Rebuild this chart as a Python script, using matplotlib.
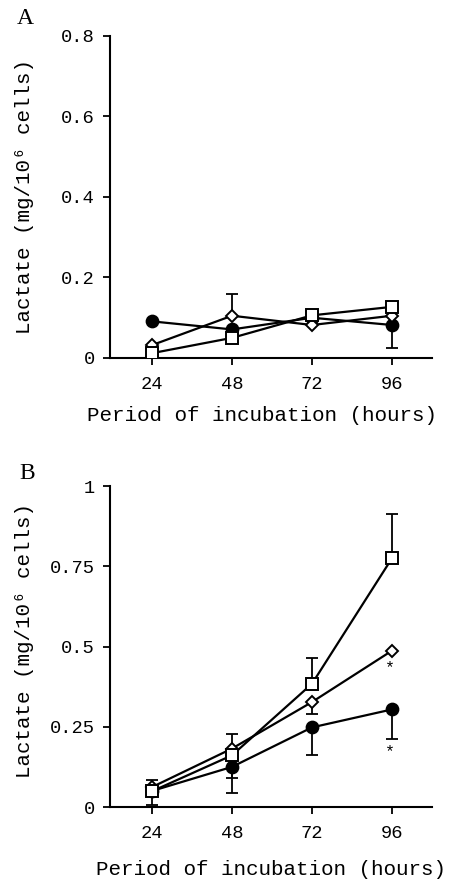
import matplotlib
matplotlib.use("Agg")
import matplotlib.pyplot as plt
import numpy as np

hours = [24, 48, 72, 96]

# Panel A
a_circle = [0.091, 0.071, 0.100, 0.082]
a_circle_err_lo = [0, 0, 0, 0.056]
a_circle_err_hi = [0, 0, 0, 0]
a_diamond = [0.032, 0.105, 0.082, 0.105]
a_diamond_err_lo = [0, 0, 0, 0]
a_diamond_err_hi = [0, 0.054, 0, 0]
a_square = [0.012, 0.050, 0.106, 0.127]

# Panel B
b_circle = [0.050, 0.125, 0.248, 0.304]
b_circle_err_lo = [0.043, 0.080, 0.087, 0.091]
b_circle_err_hi = [0, 0, 0, 0]
b_diamond = [0.062, 0.182, 0.327, 0.487]
b_diamond_err_lo = [0, 0, 0.036, 0]
b_diamond_err_hi = [0.021, 0.044, 0, 0]
b_square = [0.049, 0.161, 0.384, 0.775]
b_square_err_lo = [0, 0.071, 0, 0]
b_square_err_hi = [0, 0, 0.079, 0.138]

a_yticks = [0, 0.2, 0.4, 0.6, 0.8]
a_yticklabels = ["0", "0.2", "0.4", "0.6", "0.8"]
b_yticks = [0, 0.25, 0.5, 0.75, 1]
b_yticklabels = ["0", "0.25", "0.5", "0.75", "1"]

ylabel = "Lactate (mg/10⁶ cells)"
xlabel = "Period of incubation (hours)"

mono = ["Liberation Mono", "DejaVu Sans Mono"]
serif = ["Liberation Serif", "DejaVu Serif"]

fig = plt.figure(figsize=(4.54, 8.8), dpi=100)
W, H = 454, 880
def axrect(l, t, r, b):
    return [l / W, 1 - b / H, (r - l) / W, (b - t) / H]

axA = fig.add_axes(axrect(110, 36, 432, 358))
axB = fig.add_axes(axrect(110, 486, 432, 807))

lw = 1.6
def series(ax, y, lo, hi, marker, fc, ms):
    if lo is not None:
        ax.errorbar(hours, y, yerr=[lo, hi], fmt='none', ecolor='black',
                    elinewidth=1.3, capsize=4, capthick=1.3, zorder=2)
    ax.plot(hours, y, color='black', lw=lw, marker=marker, markersize=ms,
            markerfacecolor=fc, markeredgecolor='black', markeredgewidth=1.4, zorder=3)

# Panel A
series(axA, a_circle, a_circle_err_lo, a_circle_err_hi, 'o', 'black', 8.5)
series(axA, a_diamond, a_diamond_err_lo, a_diamond_err_hi, 'D', 'white', 6)
series(axA, a_square, None, None, 's', 'white', 8)

# Panel B
series(axB, b_circle, b_circle_err_lo, b_circle_err_hi, 'o', 'black', 8.5)
series(axB, b_diamond, b_diamond_err_lo, b_diamond_err_hi, 'D', 'white', 6)
series(axB, b_square, b_square_err_lo, b_square_err_hi, 's', 'white', 8)

xlim = (11.4, 108)
for ax, yt, ytl, ymax in [(axA, a_yticks, a_yticklabels, 0.8),
                          (axB, b_yticks, b_yticklabels, 1.0)]:
    ax.set_xlim(*xlim)
    ax.set_ylim(0, ymax)
    ax.set_xticks(hours)
    ax.set_xticklabels([str(h) for h in hours], family=mono, fontsize=13.5)
    ax.set_yticks(yt)
    ax.set_yticklabels(ytl, family=mono, fontsize=13.5)
    for s in ['top', 'right']:
        ax.spines[s].set_visible(False)
    for s in ['left', 'bottom']:
        ax.spines[s].set_linewidth(1.5)
    ax.tick_params(direction='out', length=5, width=1.3, pad=6)
    ax.tick_params(axis='x', pad=8)

# axis labels placed in figure pixels
fig.text(25 / W, 1 - 197 / H, ylabel, family=mono, fontsize=15, rotation=90,
         ha='center', va='center')
fig.text(25 / W, 1 - 641 / H, ylabel, family=mono, fontsize=15, rotation=90,
         ha='center', va='center')
fig.text(262 / W, 1 - 415 / H, xlabel, family=mono, fontsize=15,
         ha='center', va='center')
fig.text(271 / W, 1 - 869 / H, xlabel, family=mono, fontsize=15,
         ha='center', va='center')

# asterisks panel B
axB.text(95.3, 0.435, "*", ha='center', va='center', family=mono, fontsize=12)
axB.text(95.3, 0.172, "*", ha='center', va='center', family=mono, fontsize=12)

fig.text(25 / W, 1 - 18 / H, "A", family=serif, fontsize=17, ha='center', va='center')
fig.text(27 / W, 1 - 473 / H, "B", family=serif, fontsize=17, ha='center', va='center')

fig.savefig("out.png", dpi=100)
